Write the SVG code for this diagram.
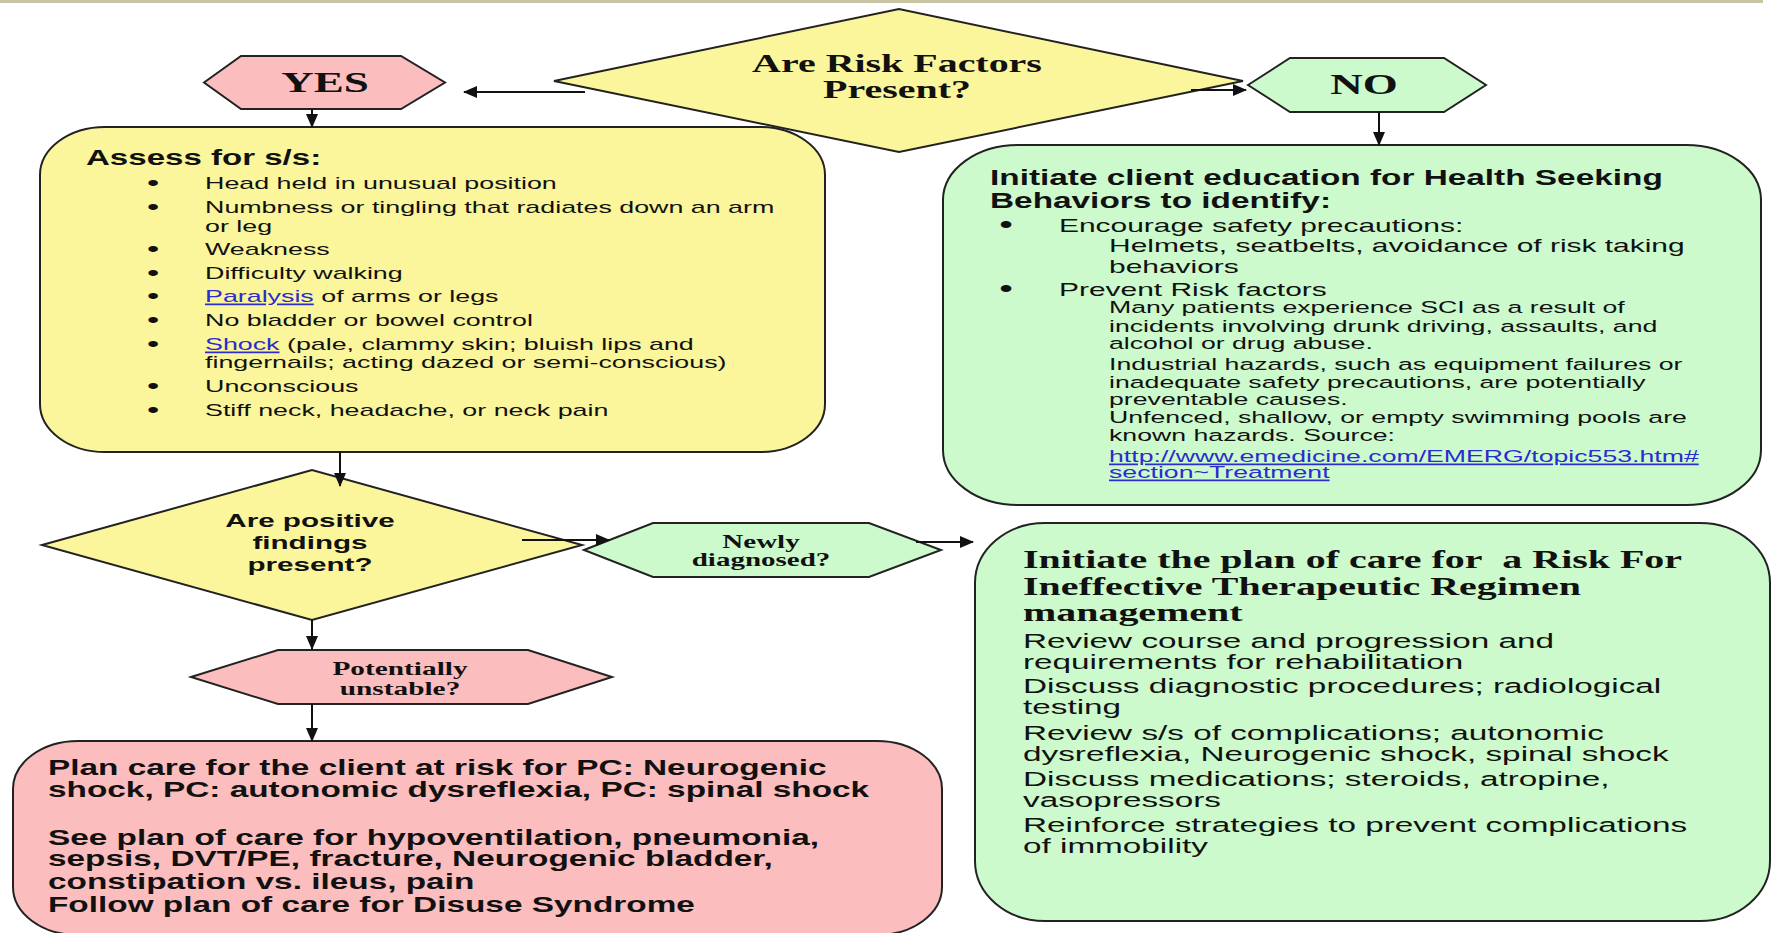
<svg xmlns="http://www.w3.org/2000/svg" width="1779" height="933" viewBox="0 0 1779 933">
  <defs>
    <style>
      .shape { stroke: #222; stroke-width: 2; stroke-linejoin: miter; }
      .yellow { fill: #FBF69B; }
      .green { fill: #CCFACC; }
      .pink { fill: #FBBDBD; }
      .conn { stroke: #111; stroke-width: 2; fill: none; marker-end: url(#arrow); }
      .sb { font-family: "Liberation Sans", Arial, sans-serif; font-weight: bold; fill: #111; }
      .sr { font-family: "Liberation Sans", Arial, sans-serif; fill: #111; }
      .tb { font-family: "Liberation Serif", "Times New Roman", serif; font-weight: bold; fill: #111; }
      .mid { text-anchor: middle; }
      .bul { text-anchor: middle; font-size: 1.3em; }
      .link { fill: #2B2BD0; text-decoration: underline; }
    </style>
    <marker id="arrow" markerUnits="userSpaceOnUse" markerWidth="14" markerHeight="12" refX="13" refY="6" orient="auto">
      <path d="M0,0 L14,6 L0,12 z" fill="#111"/>
    </marker>
  </defs>

  <rect width="1779" height="933" fill="#FFFFFF"/>
  <!-- slide top rule -->
  <rect x="0" y="0" width="1763" height="3" fill="#C9C4A4"/>

  <!-- assessment box -->
  <g id="assess">
    <rect class="shape yellow" x="40" y="127" width="785" height="325" rx="65" ry="48"/>
    <g transform="translate(86,0) scale(1.56,1)">
      <text class="sb" x="0" y="165" font-size="21.2">Assess for s/s:</text>
      <g class="sr" font-size="17.2">
        <text x="43" y="190" class="bul">•</text><text x="76.3" y="189">Head held in unusual position</text>
        <text x="43" y="214" class="bul">•</text><text x="76.3" y="213">Numbness or tingling that radiates down an arm</text>
        <text x="76.3" y="232">or leg</text>
        <text x="43" y="256" class="bul">•</text><text x="76.3" y="255">Weakness</text>
        <text x="43" y="280" class="bul">•</text><text x="76.3" y="279">Difficulty walking</text>
        <text x="43" y="303" class="bul">•</text><text x="76.3" y="302"><tspan class="link">Paralysis</tspan> of arms or legs</text>
        <text x="43" y="327" class="bul">•</text><text x="76.3" y="326">No bladder or bowel control</text>
        <text x="43" y="351" class="bul">•</text><text x="76.3" y="350"><tspan class="link">Shock</tspan> (pale, clammy skin; bluish lips and</text>
        <text x="76.3" y="368">fingernails; acting dazed or semi-conscious)</text>
        <text x="43" y="393" class="bul">•</text><text x="76.3" y="392">Unconscious</text>
        <text x="43" y="417" class="bul">•</text><text x="76.3" y="416">Stiff neck, headache, or neck pain</text>
      </g>
    </g>
  </g>

  <!-- risk factor decision -->
  <g id="risk-factors">
    <polygon class="shape yellow" points="554,81 899,9 1243,81 899,152"/>
    <g transform="translate(897,0) scale(1.56,1)">
      <text class="tb mid" x="0" y="72" font-size="25.6">Are Risk Factors</text>
      <text class="tb mid" x="0" y="98" font-size="25.6">Present?</text>
    </g>
  </g>

  <!-- YES branch -->
  <g id="yes">
    <polygon class="shape pink" points="204,82.5 241,56 401,56 445,82.5 401,109 241,109"/>
    <g transform="translate(325,0) scale(1.5,1)">
      <text class="tb mid" x="0" y="92" font-size="30">YES</text>
    </g>
  </g>

  <!-- NO branch -->
  <g id="no">
    <polygon class="shape green" points="1248,85 1290,58 1444,58 1486,85 1444,112 1290,112"/>
    <g transform="translate(1364,0) scale(1.5,1)">
      <text class="tb mid" x="0" y="94" font-size="30">NO</text>
    </g>
  </g>

  <!-- health seeking education -->
  <g id="education">
    <rect class="shape green" x="943" y="145" width="818" height="360" rx="75" ry="55"/>
    <g transform="translate(990,0) scale(1.56,1)">
      <text class="sb" x="0" y="185" font-size="21.4">Initiate client education for Health Seeking</text>
      <text class="sb" x="0" y="208" font-size="21.4">Behaviors to identify:</text>
      <g class="sr" font-size="19.2">
        <text x="10.3" y="233" class="bul">•</text><text x="44.2" y="232">Encourage safety precautions:</text>
        <text x="76.3" y="252">Helmets, seatbelts, avoidance of risk taking</text>
        <text x="76.3" y="273">behaviors</text>
        <text x="10.3" y="297" class="bul">•</text><text x="44.2" y="296">Prevent Risk factors</text>
      </g>
      <g class="sr" font-size="17.1">
        <text x="76.3" y="313">Many patients experience SCI as a result of</text>
        <text x="76.3" y="332">incidents involving drunk driving, assaults, and</text>
        <text x="76.3" y="349">alcohol or drug abuse.</text>
        <text x="76.3" y="370">Industrial hazards, such as equipment failures or</text>
        <text x="76.3" y="388">inadequate safety precautions, are potentially</text>
        <text x="76.3" y="405">preventable causes.</text>
        <text x="76.3" y="423">Unfenced, shallow, or empty swimming pools are</text>
        <text x="76.3" y="441">known hazards. Source:</text>
        <text x="76.3" y="462" class="link">http://www.emedicine.com/EMERG/topic553.htm#</text>
        <text x="76.3" y="478" class="link">section~Treatment</text>
      </g>
    </g>
  </g>

  <!-- positive findings decision -->
  <g id="positive-findings">
    <polygon class="shape yellow" points="42,545 312,470 582,545 312,620"/>
    <g transform="translate(310,0) scale(1.56,1)">
      <text class="sb mid" x="0" y="527" font-size="19">Are positive</text>
      <text class="sb mid" x="0" y="549" font-size="19">findings</text>
      <text class="sb mid" x="0" y="571" font-size="19">present?</text>
    </g>
  </g>

  <!-- newly diagnosed -->
  <g id="newly-diagnosed">
    <polygon class="shape green" points="584,550 653,523 869,523 941,550 869,577 653,577"/>
    <g transform="translate(761,0) scale(1.56,1)">
      <text class="tb mid" x="0" y="548" font-size="18.6">Newly</text>
      <text class="tb mid" x="0" y="566" font-size="18.6">diagnosed?</text>
    </g>
  </g>

  <!-- potentially unstable -->
  <g id="potentially-unstable">
    <polygon class="shape pink" points="191,677 278,650 528,650 612,677 528,704 278,704"/>
    <g transform="translate(400,0) scale(1.56,1)">
      <text class="tb mid" x="0" y="675" font-size="18.8">Potentially</text>
      <text class="tb mid" x="0" y="695" font-size="18.8">unstable?</text>
    </g>
  </g>

  <!-- therapeutic regimen plan -->
  <g id="regimen-plan">
    <rect class="shape green" x="975" y="523" width="795" height="398" rx="70" ry="60"/>
    <g transform="translate(1023,0) scale(1.56,1)">
      <text class="tb" x="0" y="568" font-size="25.6">Initiate the plan of care for&#160; a Risk For</text>
      <text class="tb" x="0" y="595" font-size="25.6">Ineffective Therapeutic Regimen</text>
      <text class="tb" x="0" y="621" font-size="25.6">management</text>
    </g>
    <g transform="translate(1023,0) scale(1.725,1)">
      <g class="sr" font-size="19.3">
        <text x="0" y="648">Review course and progression and</text>
        <text x="0" y="669">requirements for rehabilitation</text>
        <text x="0" y="693">Discuss diagnostic procedures; radiological</text>
        <text x="0" y="714">testing</text>
        <text x="0" y="740">Review s/s of complications; autonomic</text>
        <text x="0" y="761">dysreflexia, Neurogenic shock, spinal shock</text>
        <text x="0" y="786">Discuss medications; steroids, atropine,</text>
        <text x="0" y="807">vasopressors</text>
        <text x="0" y="832">Reinforce strategies to prevent complications</text>
        <text x="0" y="853">of immobility</text>
      </g>
    </g>
  </g>

  <!-- collaborative problems plan -->
  <g id="pc-plan">
    <rect class="shape pink" x="13" y="741" width="929" height="194" rx="65" ry="48"/>
    <g transform="translate(48,0) scale(1.56,1)">
      <g class="sb" font-size="21.4">
        <text x="0" y="775">Plan care for the client at risk for PC: Neurogenic</text>
        <text x="0" y="797">shock, PC: autonomic dysreflexia, PC: spinal shock</text>
        <text x="0" y="845">See plan of care for hypoventilation, pneumonia,</text>
        <text x="0" y="866">sepsis, DVT/PE, fracture, Neurogenic bladder,</text>
        <text x="0" y="889">constipation vs. ileus, pain</text>
        <text x="0" y="912">Follow plan of care for Disuse Syndrome</text>
      </g>
    </g>
  </g>

  <!-- connectors -->
  <g id="connectors">
    <line class="conn" x1="585" y1="92" x2="464" y2="92"/>
    <line class="conn" x1="1191" y1="90" x2="1246" y2="90"/>
    <line class="conn" x1="312" y1="109" x2="312" y2="127"/>
    <line class="conn" x1="1379" y1="112" x2="1379" y2="145"/>
    <line class="conn" x1="340" y1="452" x2="340" y2="486"/>
    <line class="conn" x1="522" y1="540" x2="609" y2="540"/>
    <line class="conn" x1="916" y1="542" x2="973" y2="542"/>
    <line class="conn" x1="312" y1="620" x2="312" y2="649"/>
    <line class="conn" x1="312" y1="704" x2="312" y2="741"/>
  </g>
</svg>
